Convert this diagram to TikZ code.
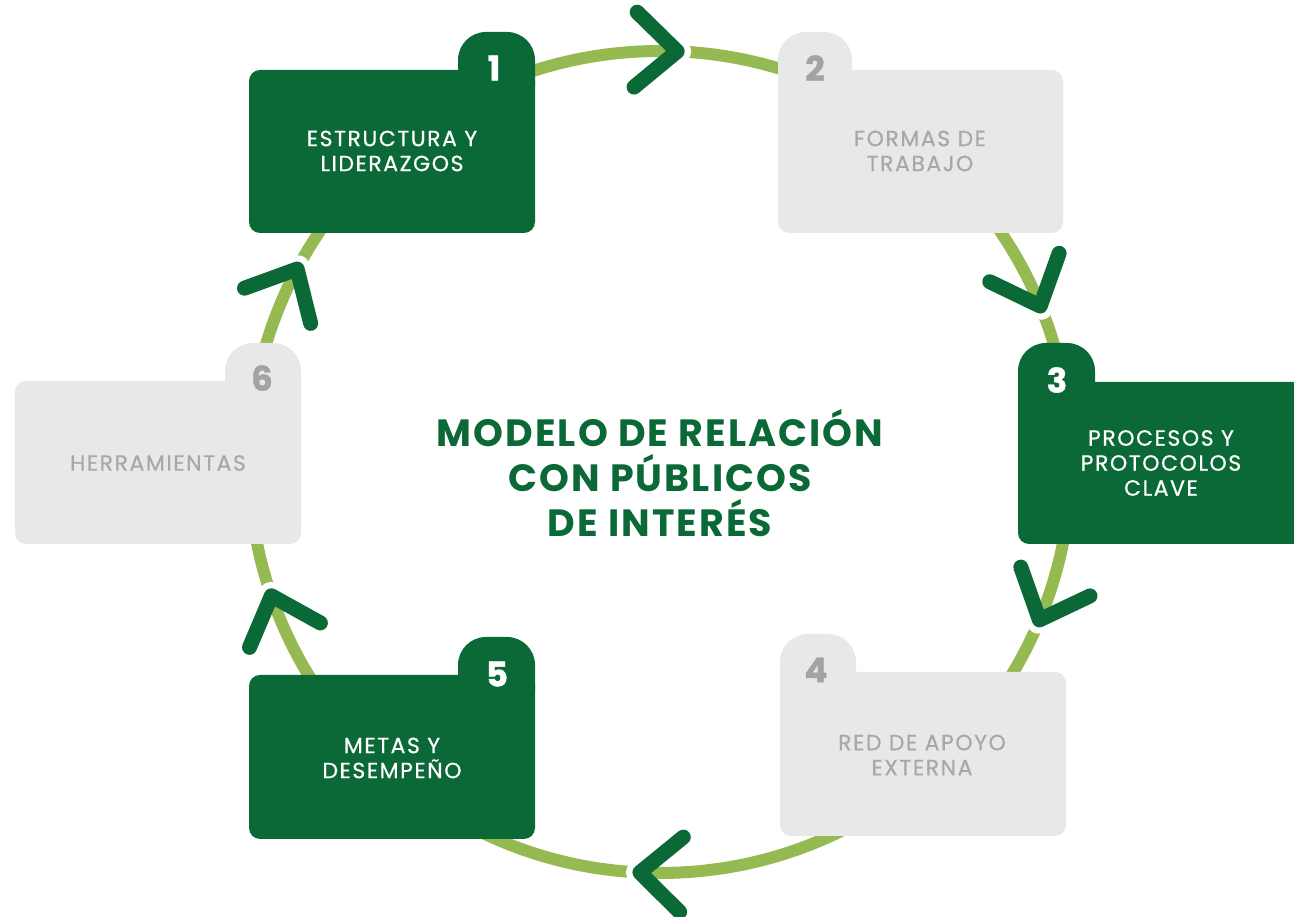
\documentclass[tikz,border=0pt]{standalone}
\usepackage{fontspec}
\setmainfont{Poppins}
\newfontfamily\cardfont[LetterSpace=7, FakeBold=0.6]{Poppins}
\newfontfamily\titlefont[LetterSpace=5.5]{Poppins}
\newfontfamily\numfont[FakeBold=1.2]{Poppins}
\usetikzlibrary{calc}
\definecolor{dkgreen}{HTML}{0B6937}
\definecolor{ltgreen}{HTML}{95BA51}
\definecolor{cardgray}{HTML}{E8E8E8}
\definecolor{txtgray}{HTML}{A8A8A8}
\definecolor{numgray}{HTML}{A3A3A3}
\tikzset{
  ring/.style={draw=ltgreen, line width=12pt},
  chev/.style={draw=dkgreen, line width=15pt, line cap=round, line join=round},
  cardtxt/.style={font=\cardfont\fontsize{22}{25}\selectfont, align=center, inner sep=0pt},
  numtxt/.style={font=\numfont\bfseries\fontsize{34}{34}\selectfont, inner sep=0pt},
  titletxt/.style={font=\titlefont\bfseries\fontsize{38}{45}\selectfont, text=dkgreen, align=center, inner sep=0pt}
}
% card: fill, x1, x2, ytop(px), ybot(px), tabx1, tabx2, tabtop(px)
\newcommand\mycard[8]{%
  \fill[#1, rounded corners=11pt] (#2,917-#4) rectangle (#3,917-#5);
  \fill[#1] (#6,917-#4-15) -- (#6,917-#8-28) arc[start angle=180,end angle=90,radius=28pt]
    -- (#7-28,917-#8) arc[start angle=90,end angle=0,radius=28pt] -- (#7,917-#4-15) -- cycle;
}
% chevron: name, angle on ring
\newcommand\mychevron[2]{%
  \coordinate (#1) at ($(C)+(#2:411)$);
  \fill[white] ($(#1)+(#2-90:3)$) circle (11pt);
  \draw[chev] ($(#1)+(#2+132:56)$) -- (#1) -- ($(#1)+(#2+48:56)$);
}
\begin{document}
\begin{tikzpicture}[x=1pt,y=1pt]
\useasboundingbox (0,0) rectangle (1294,917);
\clip (0,0) rectangle (1294,917);
\coordinate (C) at (660,455);
\draw[ring] (C) circle (411pt);
% cards
\mycard{dkgreen}{249}{535}{70}{233}{458}{535}{32}
\mycard{cardgray}{778}{1063}{70}{233}{778}{852}{32}
\mycard{dkgreen}{1018}{1304}{382}{544}{1018}{1095}{343}
\mycard{cardgray}{780}{1066}{672}{836}{780}{856}{634}
\mycard{dkgreen}{249}{535}{675}{839}{458}{535}{637}
\mycard{cardgray}{15}{301}{381}{544}{225}{301}{343}
% chevrons
\mychevron{a1}{87.6}
\mychevron{a2}{22.3}
\mychevron{a3}{-22.6}
\mychevron{a4}{-92.8}
\mychevron{a5}{199}
\mychevron{a6}{152}
% numbers
\node[numtxt, text=white] (n1) at (494,917-68) {1};
\node[numtxt, text=numgray] (n2) at (815,917-68) {2};
\node[numtxt, text=white] (n3) at (1057,917-380) {3};
\node[numtxt, text=numgray] (n4) at (816,917-670) {4};
\node[numtxt, text=white] (n5) at (497,917-674) {5};
\node[numtxt, text=numgray] (n6) at (262,917-378) {6};
% texts
\node[cardtxt, text=white] (t1) at (392,917-151) {ESTRUCTURA Y\\LIDERAZGOS};
\node[cardtxt, text=txtgray] (t2) at (920,917-151) {FORMAS DE\\TRABAJO};
\node[cardtxt, text=white] (t3) at (1161,917-463) {PROCESOS Y\\PROTOCOLOS\\CLAVE};
\node[cardtxt, text=txtgray] (t4) at (922,917-755) {RED DE APOYO\\EXTERNA};
\node[cardtxt, text=white] (t5) at (392,917-758) {METAS Y\\DESEMPEÑO};
\node[cardtxt, text=txtgray] (t6) at (158,917-463) {HERRAMIENTAS};
\node[titletxt] (title) at (660,917-473) {MODELO DE RELACIÓN\\CON PÚBLICOS\\DE INTERÉS};
\end{tikzpicture}
\end{document}
